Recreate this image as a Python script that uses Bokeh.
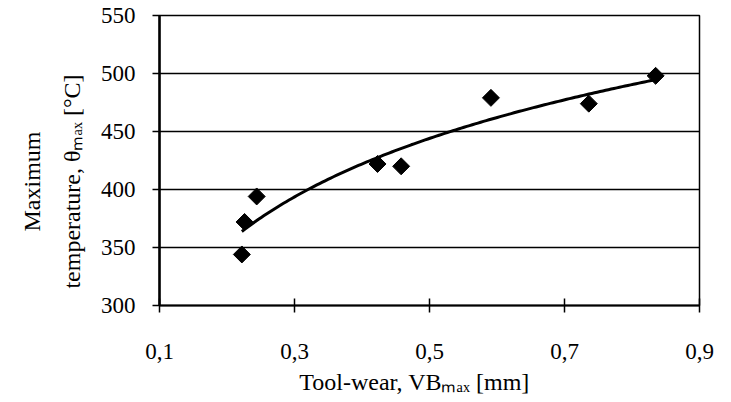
import numpy as np
from bokeh.plotting import figure
from bokeh.models import Range1d, FixedTicker
from bokeh.embed import file_html
from bokeh.resources import INLINE

# ---- data ----
vb_max = [0.222, 0.226, 0.244, 0.423, 0.458, 0.591, 0.736, 0.835]
theta_max = [344, 372, 394, 422, 420, 479, 474, 498]

x_ticks = [0.1, 0.3, 0.5, 0.7, 0.9]
x_tick_labels = ["0,1", "0,3", "0,5", "0,7", "0,9"]
y_ticks = [300, 350, 400, 450, 500, 550]
y_tick_labels = ["300", "350", "400", "450", "500", "550"]

x_title = "Tool-wear, VB\u2098\u2090\u2093 [mm]"
y_title_lines = ["Maximum", "temperature, \u03b8\u2098\u2090\u2093 [°C]"]

# ---- layout ----
W, H = 731, 402
FL, FT, FW, FH = 159, 15, 540, 290
FONT = "Liberation Serif"
NB = "\u00a0"  # non-breaking spaces used only to offset the title centres

p = figure(frame_width=FW, frame_height=FH, output_backend="svg",
           toolbar_location=None, x_range=Range1d(0.1, 0.9),
           y_range=Range1d(300, 550), min_border_left=FL,
           min_border_right=W - FL - FW, min_border_top=FT,
           min_border_bottom=H - FT - FH)
p.background_fill_color = "white"
p.border_fill_color = "white"
p.outline_line_color = "black"
p.outline_line_width = 1.5

p.xgrid.visible = False
p.ygrid.ticker = FixedTicker(ticks=y_ticks)
p.ygrid.grid_line_color = "black"
p.ygrid.grid_line_width = 1.5

p.xaxis.ticker = FixedTicker(ticks=x_ticks)
p.xaxis.major_label_overrides = dict(zip(x_ticks, x_tick_labels))
p.yaxis.ticker = FixedTicker(ticks=y_ticks)
p.yaxis.major_label_overrides = dict(zip(y_ticks, y_tick_labels))
for ax in (p.xaxis, p.yaxis):
    ax.major_label_text_font = FONT
    ax.major_label_text_font_size = "23px"
    ax.major_label_text_color = "black"
    ax.axis_line_color = "black"
    ax.major_tick_line_color = "black"
    ax.major_tick_line_width = 1.5
    ax.minor_tick_line_color = None
    ax.axis_label_text_font = FONT
    ax.axis_label_text_font_size = "24px"
    ax.axis_label_text_font_style = "normal"
    ax.axis_label_text_color = "black"

p.xaxis.axis_label = x_title + NB * 5
p.yaxis.axis_label = "\n".join(line + NB * 7 for line in y_title_lines)
p.yaxis.axis_label_text_line_height = 1.55

p.xaxis.axis_line_width = 2
p.yaxis.axis_line_width = 2.5
p.xaxis.major_tick_in = 7
p.xaxis.major_tick_out = 7
p.xaxis.major_label_standoff = 31
p.xaxis.axis_label_standoff = 7
p.yaxis.major_tick_in = 0
p.yaxis.major_tick_out = 7
p.yaxis.major_label_standoff = 17
p.yaxis.axis_label_standoff = 13

# logarithmic trend line fitted to the points
a, b = np.polyfit(np.log(vb_max), theta_max, 1)
xs = np.linspace(min(vb_max), max(vb_max), 150)
p.line(xs, a * np.log(xs) + b, line_color="black", line_width=3)

p.scatter(vb_max, theta_max, marker="square", size=12, angle=np.pi / 4,
          fill_color="black", line_color="black")

open("out.html", "w").write(file_html(p, INLINE))
